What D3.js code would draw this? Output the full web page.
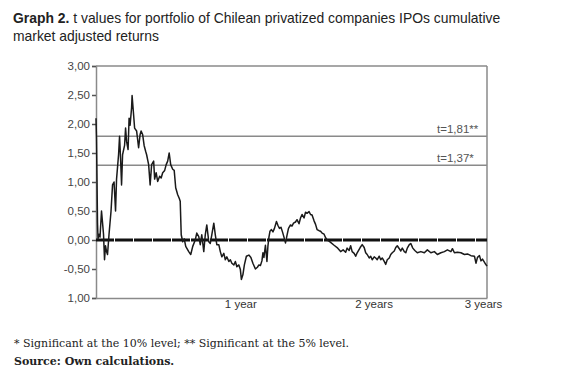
<!DOCTYPE html>
<html><head><meta charset="utf-8">
<script src="https://cdn.jsdelivr.net/npm/d3@7"></script>
<style>body{margin:0;background:#fff}svg{display:block}</style>
</head><body><svg id="c" width="563" height="380"></svg>
<script>
// trading days since IPO (260 per year)
const days = [0,1,3,4,6,8,11,13,15,17,19,21,23,26,30,33,36,39,41,45,47,49,51,53,57,59,61,64,66,68,71,72,75,77,81,85,88,90,93,96,99,101,105,108,111,115,117,120,123,127,130,133,137,140,143,146,149,153,156,159,163,166,168,170,173,176,179,185,189,193,198,201,205,208,211,215,218,221,225,228,231,235,238,241,245,248,251,255,258,261,265,268,271,275,278,281,285,288,290,293,296,300,305,309,313,318,322,325,328,331,333,335,338,341,343,345,347,350,353,356,360,363,366,369,372,375,378,381,384,388,391,394,398,401,405,408,411,415,418,421,425,428,431,435,438,441,445,448,451,455,458,461,465,468,475,481,488,493,498,501,505,508,511,515,518,521,527,531,535,538,541,545,548,551,555,558,561,565,568,571,575,578,581,585,588,591,595,598,601,605,608,611,615,618,621,625,628,632,636,641,648,655,661,668,675,681,688,695,701,708,711,715,721,728,735,741,748,755,758,761,765,768,771,776,780];
const tValues = [2.10,1.75,0.30,0.02,0.10,0.05,0.50,0.30,0.10,-0.34,-0.10,-0.20,-0.25,0.10,0.50,0.95,1.00,0.50,1.05,1.47,1.79,1.40,0.95,1.47,1.63,1.93,1.70,1.56,2.10,1.98,2.28,2.49,2.16,1.93,1.88,1.59,1.82,1.88,1.82,1.63,1.53,1.47,1.30,0.95,1.30,1.36,1.05,1.16,1.01,1.10,1.07,1.16,1.20,1.30,1.36,1.50,1.30,1.22,1.20,0.90,0.78,0.72,0.67,0.09,-0.03,0.02,-0.11,-0.20,-0.25,-0.11,0.00,0.12,0.06,-0.08,0.09,-0.20,0.09,0.26,-0.03,-0.06,0.09,0.29,0.09,-0.08,-0.08,-0.20,-0.29,-0.23,-0.34,-0.29,-0.37,-0.34,-0.40,-0.43,-0.37,-0.46,-0.43,-0.51,-0.68,-0.60,-0.43,-0.28,-0.26,-0.30,-0.40,-0.50,-0.47,-0.43,-0.44,-0.36,-0.22,-0.30,-0.09,-0.37,-0.10,0.05,0.15,0.18,0.14,0.20,0.32,0.25,0.20,0.22,0.14,0.05,-0.05,0.08,0.20,0.26,0.24,0.29,0.31,0.35,0.28,0.38,0.44,0.38,0.48,0.46,0.49,0.44,0.43,0.33,0.27,0.18,0.16,0.15,0.12,0.10,0.04,0.00,-0.02,-0.04,-0.09,-0.13,-0.20,-0.17,-0.21,-0.14,-0.18,-0.10,-0.20,-0.23,-0.28,-0.22,-0.13,-0.08,-0.13,-0.22,-0.25,-0.31,-0.28,-0.34,-0.29,-0.31,-0.34,-0.28,-0.34,-0.31,-0.37,-0.42,-0.34,-0.31,-0.25,-0.22,-0.19,-0.13,-0.10,-0.15,-0.19,-0.14,-0.20,-0.22,-0.14,-0.08,-0.06,-0.14,-0.18,-0.22,-0.20,-0.22,-0.17,-0.22,-0.20,-0.25,-0.22,-0.20,-0.17,-0.20,-0.15,-0.22,-0.21,-0.22,-0.25,-0.24,-0.27,-0.28,-0.40,-0.30,-0.27,-0.36,-0.33,-0.40,-0.45];
const yTicks = [3,2.5,2,1.5,1,0.5,0,-0.5,-1];
const yTickLabels = ["3,00","2,50","2,00","1,50","1,00","0,50","0,00","-0,50","1,00"];
const xTicks = [260,520,780];
const xTickLabels = ["1 year","2 years","3 years"];
const thresholds = [1.79,1.29];
const thresholdLabels = ["t=1,81**","t=1,37*"];
const titleBold = "Graph 2.";
const titleRest = " t values for portfolio of Chilean privatized companies IPOs cumulative";
const titleLine2 = "market adjusted returns";
const note = "* Significant at the 10% level; ** Significant at the 5% level.";
const source = "Source: Own calculations.";

const svg = d3.select("#c");
const L=96, R=487, T=66, B=298;
const x = d3.scaleLinear().domain([0,780]).range([L,R]);
const y = d3.scaleLinear().domain([-1,3]).range([B,T]);
const sans = "'Liberation Sans', Arial, sans-serif";
const serif = "'DejaVu Serif', 'Liberation Serif', serif";

// title
const t1 = svg.append("text").attr("x",13).attr("y",23).attr("font-family",sans).attr("font-size",13.9).attr("fill","#222");
t1.append("tspan").attr("font-weight","bold").text(titleBold);
t1.append("tspan").text(titleRest);
svg.append("text").attr("x",13).attr("y",41).attr("font-family",sans).attr("font-size",13.9).attr("fill","#222").text(titleLine2);

// frame lines
const grey="#8a8a8a";
svg.append("line").attr("x1",L).attr("x2",R).attr("y1",y(3)).attr("y2",y(3)).attr("stroke",grey).attr("stroke-width",1.5);
svg.append("line").attr("x1",R).attr("x2",R).attr("y1",T).attr("y2",B).attr("stroke",grey).attr("stroke-width",1.5);

// thresholds
thresholds.forEach((v,i)=>{
  svg.append("line").attr("x1",L).attr("x2",R).attr("y1",y(v)).attr("y2",y(v)).attr("stroke",grey).attr("stroke-width",1.6);
  svg.append("text").attr("x",437).attr("y",y(v)-3.5).attr("font-family",sans).attr("font-size",11.5).attr("fill","#555").text(thresholdLabels[i]);
});

// y axis
const yAxis = d3.axisLeft(y).tickValues(yTicks).tickSize(4).tickPadding(2).tickFormat((d,i)=>yTickLabels[i]);
const gy = svg.append("g").attr("transform",`translate(${L},0)`).call(yAxis);
gy.select(".domain").attr("stroke",grey).attr("stroke-width",1.5);
gy.selectAll(".tick line").attr("stroke","#555").attr("stroke-width",1.5);
gy.selectAll(".tick text").attr("font-family",sans).attr("font-size",11.5).attr("fill","#444");

// x axis
const xAxis = d3.axisBottom(x).tickValues(xTicks).tickSize(0).tickPadding(0).tickFormat((d,i)=>xTickLabels[i]);
const gx = svg.append("g").attr("transform",`translate(0,${B})`).call(xAxis);
gx.select(".domain").attr("stroke",grey).attr("stroke-width",1.5);
gx.selectAll(".tick text").attr("font-family",sans).attr("font-size",11.5).attr("fill","#333")
  .attr("dy",null).attr("y",10)
  .attr("text-anchor",(d,i)=> i<2 ? "start" : "middle")
  .attr("dx",(d,i)=> i<2 ? -2 : -4);

// zero line
svg.append("line").attr("x1",L).attr("x2",R).attr("y1",y(0)).attr("y2",y(0)).attr("stroke","#111").attr("stroke-width",3).attr("stroke-dasharray","18,1");

// series
const line = d3.line().x((d,i)=>x(days[i])).y(d=>y(d));
svg.append("path").datum(tValues).attr("d",line).attr("fill","none").attr("stroke","#1a1a1a").attr("stroke-width",1.5).attr("stroke-linejoin","round");

// notes
svg.append("text").attr("x",14).attr("y",347).attr("font-family",serif).attr("font-size",11).attr("fill","#222").text(note);
svg.append("text").attr("x",14).attr("y",365).attr("font-family",serif).attr("font-size",11).attr("font-weight","bold").attr("fill","#222").text(source);
</script></body></html>
